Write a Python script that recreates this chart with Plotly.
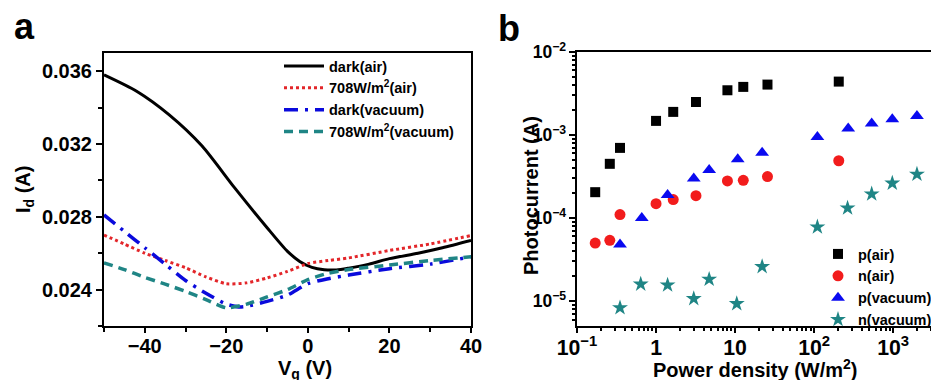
import plotly.graph_objects as go

# ---------------- Panel a data ----------------
vg_dark_air = [-50, -42, -34, -26, -18, -10, -5, -2, 1, 4, 7, 10, 15, 20, 27, 33, 40]
id_dark_air = [0.0358, 0.0349, 0.0336, 0.0319, 0.0296, 0.0274, 0.0261, 0.02555, 0.02522, 0.02509, 0.02508,
               0.02518, 0.0254, 0.0257, 0.0260, 0.0263, 0.0267]

vg_light_air = [-50, -45, -40, -35, -30, -25, -20, -15, -10, -5, 0, 5, 10, 20, 30, 40]
id_light_air = [0.0270, 0.0265, 0.0260, 0.0256, 0.0252, 0.0247, 0.02432, 0.02437, 0.02464, 0.0250,
                0.02543, 0.0256, 0.02574, 0.02615, 0.02651, 0.02697]

vg_dark_vac = [-50, -45, -40, -35, -30, -25, -20, -17, -15, -10, -5, 0, 5, 10, 20, 30, 40]
id_dark_vac = [0.0281, 0.0272, 0.0263, 0.0254, 0.0245, 0.0238, 0.0232, 0.02305, 0.02308, 0.02335,
               0.0237, 0.02433, 0.0246, 0.0248, 0.02515, 0.0254, 0.0258]

vg_light_vac = [-50, -45, -40, -35, -30, -25, -20, -15, -10, -5, 0, 5, 10, 20, 30, 40]
id_light_vac = [0.02547, 0.0251, 0.02467, 0.0243, 0.0239, 0.02345, 0.0230, 0.0232, 0.0236, 0.0240,
                0.02455, 0.0249, 0.0251, 0.02535, 0.0256, 0.0258]

# ---------------- Panel b data ----------------
pd_p_air = [0.17, 0.26, 0.35, 1.0, 1.65, 3.2, 8.0, 12.7, 25.7, 205]
pc_p_air = [2.05e-4, 4.5e-4, 7.0e-4, 1.48e-3, 1.9e-3, 2.5e-3, 3.46e-3, 3.8e-3, 4.05e-3, 4.4e-3]

pd_n_air = [0.17, 0.26, 0.35, 1.0, 1.65, 3.2, 8.0, 12.7, 25.7, 205]
pc_n_air = [5.0e-5, 5.4e-5, 1.1e-4, 1.49e-4, 1.67e-4, 1.86e-4, 2.8e-4, 2.85e-4, 3.16e-4, 4.9e-4]

pd_p_vac = [0.35, 0.66, 1.4, 3.0, 4.7, 10.8, 22, 110, 270, 535, 975, 2000]
pc_p_vac = [4.8e-5, 1.0e-4, 1.9e-4, 3.0e-4, 3.8e-4, 5.1e-4, 6.1e-4, 9.5e-4, 1.2e-3, 1.38e-3, 1.55e-3, 1.69e-3]

pd_n_vac = [0.35, 0.64, 1.4, 3.0, 4.7, 10.5, 22, 110, 265, 535, 975, 2000]
pc_n_vac = [8.3e-6, 1.6e-5, 1.56e-5, 1.07e-5, 1.83e-5, 9.3e-6, 2.6e-5, 7.8e-5, 1.32e-4, 1.95e-4, 2.63e-4, 3.37e-4]

FONT = "Liberation Sans, Arial, sans-serif"
OFF = 8  # page body margin
W, H = 939 - OFF, 380 - OFF

fig = go.Figure()

# Panel a lines
fig.add_trace(go.Scatter(x=vg_dark_air, y=id_dark_air, mode="lines", name="dark(air)",
                         line=dict(color="black", width=3, shape="spline", smoothing=0.7),
                         xaxis="x", yaxis="y", legend="legend"))
fig.add_trace(go.Scatter(x=vg_light_air, y=id_light_air, mode="lines", name="708W/m<sup>2</sup>(air)",
                         line=dict(color="#e3262a", width=3, dash="dot", shape="spline", smoothing=0.6),
                         xaxis="x", yaxis="y", legend="legend"))
fig.add_trace(go.Scatter(x=vg_dark_vac, y=id_dark_vac, mode="lines", name="dark(vacuum)",
                         line=dict(color="#0a0adc", width=3.5, dash="14px,7px,3px,7px", shape="spline", smoothing=0.6),
                         xaxis="x", yaxis="y", legend="legend"))
fig.add_trace(go.Scatter(x=vg_light_vac, y=id_light_vac, mode="lines", name="708W/m<sup>2</sup>(vacuum)",
                         line=dict(color="#1f8585", width=3.5, dash="9px,6px", shape="spline", smoothing=0.6),
                         xaxis="x", yaxis="y", legend="legend"))

# Panel b markers
fig.add_trace(go.Scatter(x=pd_p_air, y=pc_p_air, mode="markers", name="p(air)",
                         marker=dict(symbol="square", color="black", size=10),
                         xaxis="x2", yaxis="y2", legend="legend2"))
fig.add_trace(go.Scatter(x=pd_n_air, y=pc_n_air, mode="markers", name="n(air)",
                         marker=dict(symbol="circle", color="#f21c1c", size=11),
                         xaxis="x2", yaxis="y2", legend="legend2"))
fig.add_trace(go.Scatter(x=pd_p_vac, y=pc_p_vac, mode="markers", name="p(vacuum)",
                         marker=dict(symbol="triangle-up", color="#0a0af0", size=12),
                         xaxis="x2", yaxis="y2", legend="legend2"))
fig.add_trace(go.Scatter(x=pd_n_vac, y=pc_n_vac, mode="markers", name="n(vacuum)",
                         marker=dict(symbol="star", color="#1f8585", size=12),
                         xaxis="x2", yaxis="y2", legend="legend2"))

def px_x(p):
    return (p - OFF) / W

def px_y(p):
    return 1 - (p - OFF) / H

axis_common = dict(showline=True, linecolor="black", linewidth=2, showgrid=False, zeroline=False,
                   ticks="outside", tickcolor="black", tickwidth=2, automargin=False)

fig.update_layout(
    width=W, height=H,
    margin=dict(l=0, r=0, t=0, b=0, autoexpand=False),
    paper_bgcolor="white", plot_bgcolor="white",
    font=dict(family=FONT, color="black"),
    xaxis=dict(domain=[px_x(104), px_x(471)], range=[-50, 40], tick0=-40, dtick=20, ticklen=5,
               ticklabelstandoff=-4,
               minor=dict(dtick=10, ticks="outside", ticklen=4, tickcolor="black", tickwidth=2),
               mirror=True, tickfont=dict(size=20, weight="bold"), anchor="y", **axis_common),
    yaxis=dict(domain=[px_y(326), px_y(53)], range=[0.022, 0.037], tick0=0.024, dtick=0.004,
               tickformat=".3f", ticklen=6,
               minor=dict(dtick=0.002, ticks="outside", ticklen=4, tickcolor="black", tickwidth=2),
               mirror=True, tickfont=dict(size=20, weight="bold"), anchor="x", **axis_common),
    xaxis2=dict(domain=[px_x(577), 1.0], type="log", range=[-1, 3.58], dtick=1, ticklen=5,
                ticklabelstandoff=-3,
                exponentformat="power", showexponent="all",
                minor=dict(dtick="D1", ticks="outside", ticklen=3, tickcolor="black", tickwidth=1.5),
                mirror=True, tickfont=dict(size=17, weight="bold"), anchor="y2", **axis_common),
    yaxis2=dict(domain=[px_y(326), px_y(52)], type="log", range=[-5.30, -2], dtick=1, ticklen=6,
                exponentformat="power", showexponent="all",
                minor=dict(dtick="D1", ticks="outside", ticklen=3, tickcolor="black", tickwidth=1.5),
                mirror=False, tickfont=dict(size=14, weight="bold"), anchor="x2", **axis_common),
    legend=dict(x=px_x(279), y=px_y(50), xanchor="left", yanchor="top", bgcolor="rgba(0,0,0,0)",
                font=dict(size=14.5, weight="bold"), tracegroupgap=0, itemwidth=40,
                traceorder="normal"),
    legend2=dict(x=px_x(818), y=px_y(238), xanchor="left", yanchor="top", bgcolor="rgba(0,0,0,0)",
                 font=dict(size=14.5, weight="bold"), tracegroupgap=0, itemwidth=30,
                 traceorder="normal"),
    showlegend=True,
)

annotations = [
    dict(text="a", x=px_x(12), y=px_y(27), xanchor="left", yanchor="middle",
         font=dict(size=36, weight="bold")),
    dict(text="b", x=px_x(496), y=px_y(29), xanchor="left", yanchor="middle",
         font=dict(size=36, weight="bold")),
    dict(text="I<sub>d</sub> (A)", x=px_x(24), y=px_y(190), textangle=-90,
         xanchor="center", yanchor="middle", font=dict(size=20, weight="bold")),
    dict(text="V<sub>g</sub> (V)", x=px_x(305), y=px_y(369), xanchor="center", yanchor="middle",
         font=dict(size=20, weight="bold")),
    dict(text="Photocurrent (A)", x=px_x(531), y=px_y(196), textangle=-90,
         xanchor="center", yanchor="middle", font=dict(size=20, weight="bold")),
    dict(text="Power density (W/m<sup>2</sup>)", x=px_x(755), y=px_y(368), xanchor="center",
         yanchor="middle", font=dict(size=20, weight="bold")),
]
for a in annotations:
    a.update(xref="paper", yref="paper", showarrow=False)
fig.update_layout(annotations=annotations)

fig.write_html("out.html")
